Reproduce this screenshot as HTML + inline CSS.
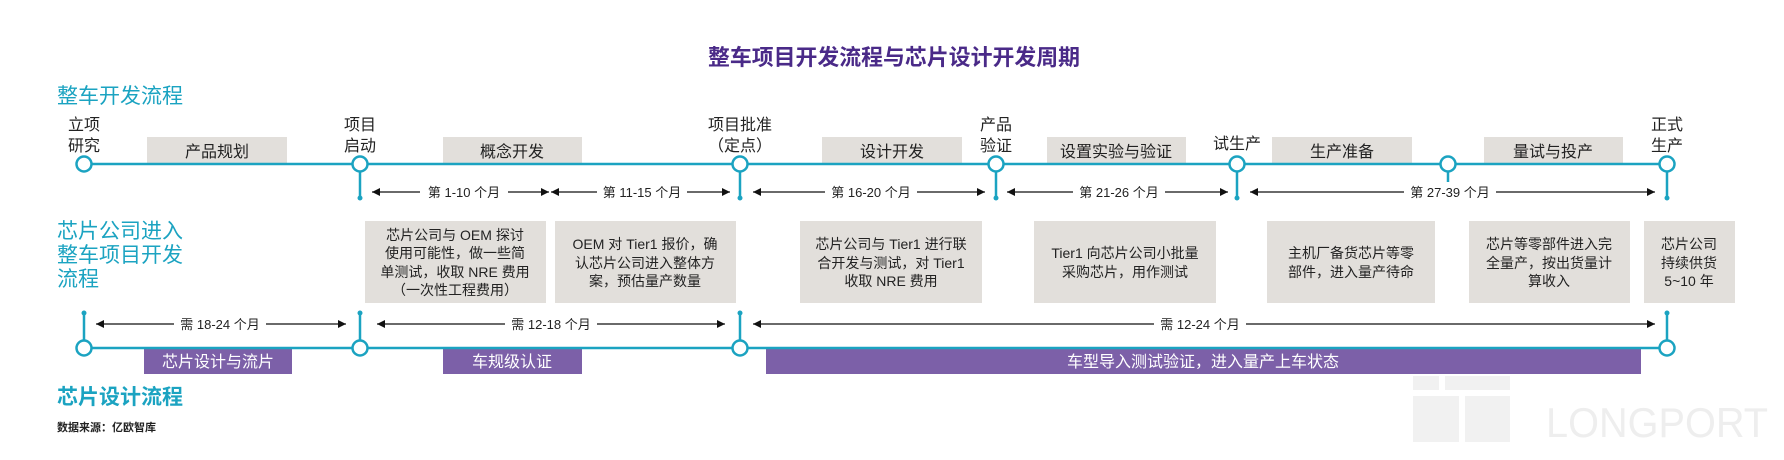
<!DOCTYPE html>
<html><head><meta charset="utf-8"><style>
html,body{margin:0;padding:0;background:#fff;width:1784px;height:460px;overflow:hidden}
text{font-family:"Liberation Sans","Noto Sans CJK SC",sans-serif}
</style></head><body>
<svg width="1784" height="460" viewBox="0 0 1784 460" xmlns="http://www.w3.org/2000/svg">
<defs>
<marker id="ah" viewBox="0 0 10 10" refX="10" refY="5" markerWidth="9" markerHeight="8" orient="auto-start-reverse" markerUnits="userSpaceOnUse"><path d="M0,0 L10,5 L0,10 z" fill="#111"/></marker>
</defs>
<!-- watermark -->
<g fill="#f1f1f1">
<rect x="1413" y="376" width="26" height="14"/><rect x="1445" y="376" width="65" height="14"/>
<path d="M1413,396 h46 v46 h-46 z"/><rect x="1465" y="396" width="45" height="46"/>
<text x="1546" y="437" font-size="42" fill="#eeeeee" textLength="222" lengthAdjust="spacingAndGlyphs">LONGPORT</text>
</g>
<!-- title -->
<text x="894" y="65" font-size="22" font-weight="bold" fill="#4a2a88" text-anchor="middle" textLength="372" lengthAdjust="spacingAndGlyphs">整车项目开发流程与芯片设计开发周期</text>
<!-- side labels -->
<g fill="#1ba3c1" font-size="21">
<text x="57" y="103">整车开发流程</text>
<text x="57" y="238">芯片公司进入</text>
<text x="57" y="262">整车项目开发</text>
<text x="57" y="286">流程</text>
<text x="57" y="404" font-weight="bold">芯片设计流程</text>
</g>
<text x="57" y="431" font-size="11" fill="#222" font-weight="bold">数据来源：亿欧智库</text>
<!-- gray stage boxes top -->
<g fill="#e2dfdb">
<rect x="147" y="137" width="140" height="27"/>
<rect x="443" y="137" width="139" height="27"/>
<rect x="822" y="137" width="140" height="27"/>
<rect x="1047" y="137" width="139" height="27"/>
<rect x="1272" y="137" width="140" height="27"/>
<rect x="1484" y="137" width="139" height="27"/>
</g>
<g font-size="16" fill="#222" text-anchor="middle">
<text x="217" y="157">产品规划</text>
<text x="512" y="157">概念开发</text>
<text x="892" y="157">设计开发</text>
<text x="1116" y="157">设置实验与验证</text>
<text x="1342" y="157">生产准备</text>
<text x="1553" y="157">量试与投产</text>
</g>
<!-- node labels -->
<g font-size="16" fill="#222" text-anchor="middle">
<text x="84" y="130">立项</text><text x="84" y="151">研究</text>
<text x="360" y="130">项目</text><text x="360" y="151">启动</text>
<text x="740" y="130">项目批准</text><text x="740" y="151">（定点）</text>
<text x="996" y="130">产品</text><text x="996" y="151">验证</text>
<text x="1237" y="149">试生产</text>
<text x="1667" y="130">正式</text><text x="1667" y="151">生产</text>
</g>
<!-- top line -->
<g stroke="#1ba3c1" stroke-width="2.5" fill="#fff">
<line x1="84" y1="164" x2="1667" y2="164"/>
<line x1="360" y1="164" x2="360" y2="198"/>
<line x1="740" y1="164" x2="740" y2="198"/>
<line x1="996" y1="164" x2="996" y2="198"/>
<line x1="1237" y1="164" x2="1237" y2="198"/>
<line x1="1448" y1="164" x2="1448" y2="182"/>
<line x1="1667" y1="164" x2="1667" y2="198"/>
<circle cx="84" cy="164" r="7.5"/><circle cx="360" cy="164" r="7.5"/><circle cx="740" cy="164" r="7.5"/>
<circle cx="996" cy="164" r="7.5"/><circle cx="1237" cy="164" r="7.5"/><circle cx="1448" cy="164" r="7.5"/><circle cx="1667" cy="164" r="7.5"/>
</g>
<g fill="#1ba3c1"><circle cx="360" cy="198" r="2.5"/><circle cx="740" cy="198" r="2.5"/><circle cx="996" cy="198" r="2.5"/><circle cx="1237" cy="198" r="2.5"/><circle cx="1667" cy="198" r="2.5"/></g>
<!-- top arrows -->
<g stroke="#111" stroke-width="1.2" marker-start="url(#ah)" marker-end="url(#ah)">
<line x1="372" y1="192" x2="549" y2="192"/>
<line x1="551" y1="192" x2="730" y2="192"/>
<line x1="753" y1="192" x2="985" y2="192"/>
<line x1="1007" y1="192" x2="1228" y2="192"/>
<line x1="1250" y1="192" x2="1655" y2="192"/>
</g>
<g font-size="13" fill="#222" text-anchor="middle">
<rect x="420" y="183" width="88" height="18" fill="#fff"/><text x="464" y="197">第 1-10 个月</text>
<rect x="597" y="183" width="90" height="18" fill="#fff"/><text x="642" y="197">第 11-15 个月</text>
<rect x="825" y="183" width="92" height="18" fill="#fff"/><text x="871" y="197">第 16-20 个月</text>
<rect x="1073" y="183" width="92" height="18" fill="#fff"/><text x="1119" y="197">第 21-26 个月</text>
<rect x="1404" y="183" width="92" height="18" fill="#fff"/><text x="1450" y="197">第 27-39 个月</text>
</g>
<!-- middle boxes -->
<g fill="#e2dfdb">
<rect x="365" y="221" width="181" height="82"/>
<rect x="555" y="221" width="181" height="82"/>
<rect x="800" y="221" width="182" height="82"/>
<rect x="1034" y="221" width="182" height="82"/>
<rect x="1267" y="221" width="168" height="82"/>
<rect x="1469" y="221" width="161" height="82"/>
<rect x="1644" y="221" width="91" height="82"/>
</g>
<g font-size="14" fill="#222" text-anchor="middle">
<text x="455" y="240">芯片公司与 OEM 探讨</text>
<text x="455" y="258">使用可能性，做一些简</text>
<text x="455" y="277">单测试，收取 NRE 费用</text>
<text x="455" y="295">（一次性工程费用）</text>
<text x="645" y="249">OEM 对 Tier1 报价，确</text>
<text x="645" y="268">认芯片公司进入整体方</text>
<text x="645" y="286">案，预估量产数量</text>
<text x="891" y="249">芯片公司与 Tier1 进行联</text>
<text x="891" y="268">合开发与测试，对 Tier1</text>
<text x="891" y="286">收取 NRE 费用</text>
<text x="1125" y="258">Tier1 向芯片公司小批量</text>
<text x="1125" y="277">采购芯片，用作测试</text>
<text x="1351" y="258">主机厂备货芯片等零</text>
<text x="1351" y="277">部件，进入量产待命</text>
<text x="1549" y="249">芯片等零部件进入完</text>
<text x="1549" y="268">全量产，按出货量计</text>
<text x="1549" y="286">算收入</text>
<text x="1689" y="249">芯片公司</text>
<text x="1689" y="268">持续供货</text>
<text x="1689" y="286">5~10 年</text>
</g>
<!-- bottom purple boxes -->
<g fill="#7c60a8">
<rect x="144" y="348" width="148" height="26"/>
<rect x="443" y="348" width="139" height="26"/>
<rect x="766" y="348" width="875" height="26"/>
</g>
<g font-size="16" fill="#fff" text-anchor="middle">
<text x="218" y="367">芯片设计与流片</text>
<text x="512" y="367">车规级认证</text>
<text x="1203" y="367">车型导入测试验证，进入量产上车状态</text>
</g>
<!-- bottom line -->
<g stroke="#1ba3c1" stroke-width="2.5" fill="#fff">
<line x1="84" y1="348" x2="1667" y2="348"/>
<line x1="84" y1="313" x2="84" y2="348"/>
<line x1="360" y1="313" x2="360" y2="348"/>
<line x1="740" y1="313" x2="740" y2="348"/>
<line x1="1667" y1="313" x2="1667" y2="348"/>
<circle cx="84" cy="348" r="7.5"/><circle cx="360" cy="348" r="7.5"/><circle cx="740" cy="348" r="7.5"/><circle cx="1667" cy="348" r="7.5"/>
</g>
<g fill="#1ba3c1"><circle cx="84" cy="313" r="2.5"/><circle cx="360" cy="313" r="2.5"/><circle cx="740" cy="313" r="2.5"/><circle cx="1667" cy="313" r="2.5"/></g>
<g stroke="#111" stroke-width="1.2" marker-start="url(#ah)" marker-end="url(#ah)">
<line x1="96" y1="324" x2="346" y2="324"/>
<line x1="377" y1="324" x2="725" y2="324"/>
<line x1="753" y1="324" x2="1655" y2="324"/>
</g>
<g font-size="13" fill="#222" text-anchor="middle">
<rect x="174" y="315" width="92" height="18" fill="#fff"/><text x="220" y="329">需 18-24 个月</text>
<rect x="505" y="315" width="92" height="18" fill="#fff"/><text x="551" y="329">需 12-18 个月</text>
<rect x="1154" y="315" width="92" height="18" fill="#fff"/><text x="1200" y="329">需 12-24 个月</text>
</g>
</svg>
</body></html>
